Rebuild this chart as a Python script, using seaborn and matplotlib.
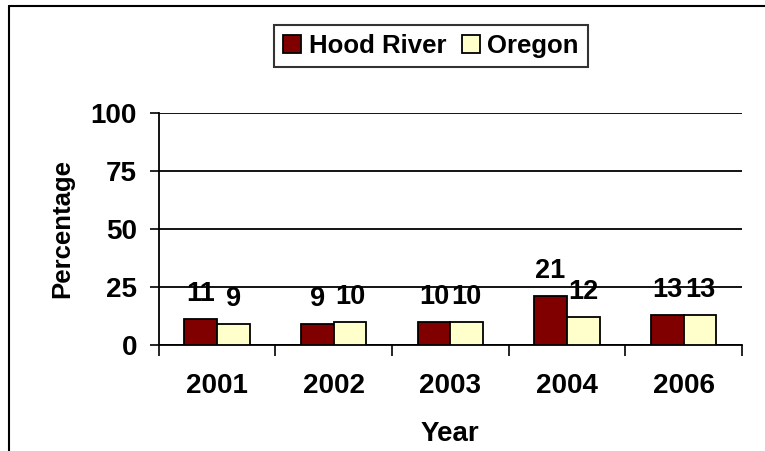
import pandas as pd
import matplotlib.pyplot as plt
import seaborn as sns
from matplotlib.lines import Line2D

# data
years = ['2001', '2002', '2003', '2004', '2006']
hood_river = [11, 9, 10, 21, 13]
oregon = [9, 10, 10, 12, 13]
series = ['Hood River', 'Oregon']
colors = ['#800000', '#FFFFCC']
y_ticks = [0, 25, 50, 75, 100]

df = pd.DataFrame({
    'Year': years * 2,
    'Percentage': hood_river + oregon,
    'Area': [series[0]] * len(years) + [series[1]] * len(years),
})

sns.set_style('white')
plt.rcParams['font.family'] = ['Liberation Sans', 'DejaVu Sans']
plt.rcParams['font.weight'] = 'bold'
plt.rcParams['text.color'] = 'black'
plt.rcParams['axes.labelcolor'] = 'black'
plt.rcParams['xtick.color'] = 'black'
plt.rcParams['ytick.color'] = 'black'

fig = plt.figure(figsize=(7.65, 4.51), dpi=100)
ax = fig.add_axes([158.5 / 765, 1 - 345 / 451, (742 - 158.5) / 765, (345 - 113) / 451])

sns.barplot(data=df, x='Year', y='Percentage', hue='Area', order=years,
            hue_order=series, palette=colors, width=0.56, gap=0,
            edgecolor='black', linewidth=1.3, saturation=1, ax=ax, zorder=3)

# value labels over the bars
for cont in ax.containers:
    for bar in cont:
        h = bar.get_height()
        ax.annotate(f'{h:.0f}', (bar.get_x() + bar.get_width() / 2, h),
                    xytext=(0, 13), textcoords='offset points',
                    ha='center', va='baseline', fontsize=19.5,
                    fontweight='bold', color='black', zorder=4)

ax.set_ylim(0, 100)
ax.set_xlim(-0.5, len(years) - 0.5)
ax.set_yticks(y_ticks)
ax.yaxis.grid(True, color='black', linewidth=1.3, zorder=0)
ax.set_axisbelow(True)

# x ticks sit between the categories
ax.set_xticks([i - 0.5 for i in range(len(years) + 1)], minor=True)
ax.tick_params(axis='x', which='minor', direction='out', length=8, width=1.2,
               color='black', bottom=True)
ax.tick_params(axis='x', which='major', length=0, pad=20, labelsize=20,
               labelcolor='black')
ax.tick_params(axis='y', direction='out', length=6.5, width=1.2, color='black',
               left=True, pad=9, labelsize=20, labelcolor='black')
for lab in ax.get_xticklabels() + ax.get_yticklabels():
    lab.set_fontweight('bold')

for side in ['top', 'right']:
    ax.spines[side].set_visible(False)
for side in ['left', 'bottom']:
    ax.spines[side].set_color('black')
    ax.spines[side].set_linewidth(1.3)

ax.set_xlabel('Year', fontsize=20, fontweight='bold', labelpad=16, color='black')
ax.set_ylabel('Percentage', fontsize=18.5, fontweight='bold', labelpad=12,
              color='black')

leg = ax.legend(loc='center', bbox_to_anchor=(431 / 765, 1 - 46 / 451),
                bbox_transform=fig.transFigure, ncol=2, fontsize=18.5,
                frameon=True, fancybox=False, handlelength=0.7,
                handleheight=0.7, handletextpad=0.3, columnspacing=0.6,
                borderpad=0.35, borderaxespad=0)
leg.get_frame().set_edgecolor('black')
leg.get_frame().set_linewidth(1.5)
for t in leg.get_texts():
    t.set_fontweight('bold')
    t.set_color('black')

# outer frame (left and top edges only)
fig.add_artist(Line2D([9 / 765, 9 / 765], [0, 1 - 6 / 451], color='black',
                      linewidth=1.5, transform=fig.transFigure))
fig.add_artist(Line2D([9 / 765, 1], [1 - 6 / 451, 1 - 6 / 451], color='black',
                      linewidth=1.5, transform=fig.transFigure))

fig.savefig('out.png', dpi=100)
